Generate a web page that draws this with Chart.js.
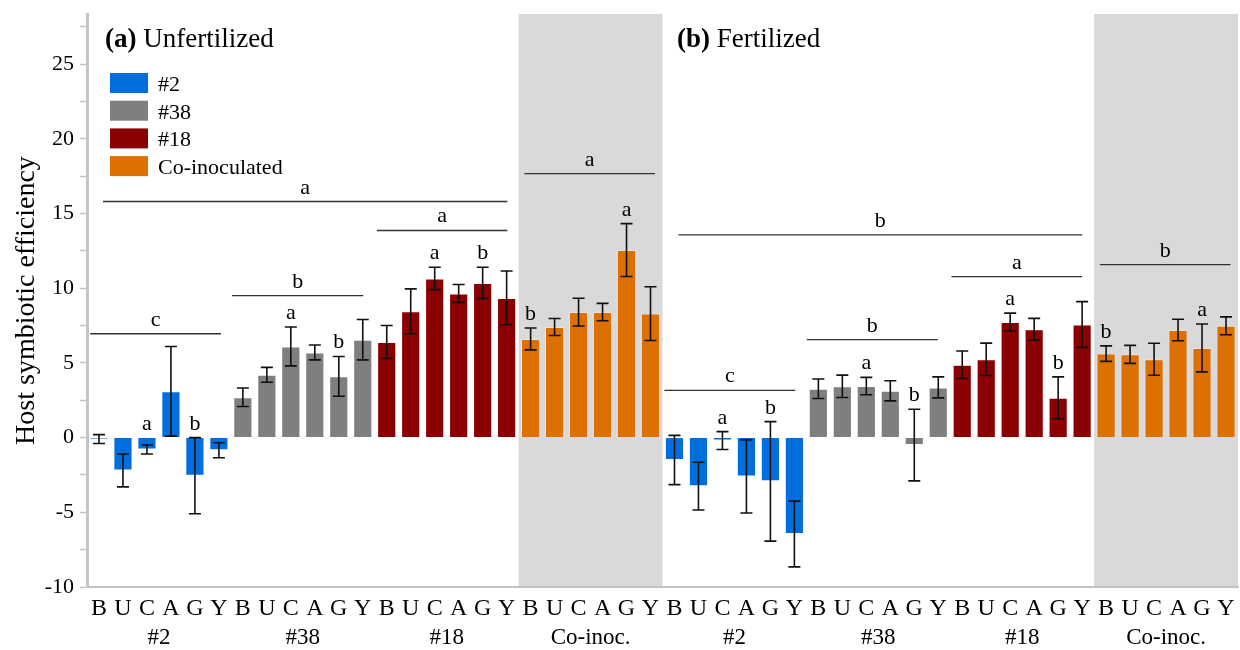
<!DOCTYPE html>
<html lang="en">
<head>
<meta charset="UTF-8">
<title>Host symbiotic efficiency</title>
<script src="https://cdn.jsdelivr.net/npm/chart.js@4/dist/chart.umd.min.js"></script>
<style>
  body { margin: 0; background: #fff; }
  #chart { display: block; }
</style>
</head>
<body>
<canvas id="chart" width="1240" height="650"></canvas>
<script>
// strains along x, repeated for each inoculum and each panel
const strains = ['B', 'U', 'C', 'A', 'G', 'Y'];
const groups = ['#2', '#38', '#18', 'Co-inoc.'];
const legendNames = ['#2', '#38', '#18', 'Co-inoculated'];
const colors = ['#006fdd', '#7f7f7f', '#8b0000', '#dd7000'];
const panelTitles = [['(a)', ' Unfertilized'], ['(b)', ' Fertilized']];

// (a) Unfertilized: means and error bar half-widths, per group of 6
const unfertMean = [
  -0.1, -2.2, -0.8, 3.1, -2.55, -0.85,
  2.7, 4.2, 6.1, 5.7, 4.1, 6.55,
  6.4, 8.45, 10.65, 9.65, 10.35, 9.35,
  6.6, 7.4, 8.4, 8.4, 12.55, 8.3
];
const unfertErr = [
  0.3, 1.1, 0.3, 3.0, 2.55, 0.5,
  0.62, 0.5, 1.3, 0.5, 1.33, 1.35,
  1.1, 1.5, 0.75, 0.6, 1.05, 1.8,
  0.73, 0.57, 0.93, 0.58, 1.77, 1.8
];
// (b) Fertilized
const fertMean = [
  -1.5, -3.25, -0.2, -2.6, -2.93, -6.45,
  3.27, 3.43, 3.45, 3.13, -0.5, 3.36,
  4.88, 5.24, 7.73, 7.25, 2.66, 7.57,
  5.62, 5.57, 5.24, 7.2, 6.0, 7.48
];
const fertErr = [
  1.65, 1.6, 0.6, 2.45, 4.0, 2.2,
  0.65, 0.75, 0.58, 0.67, 2.4, 0.7,
  0.92, 1.08, 0.6, 0.73, 1.4, 1.53,
  0.52, 0.6, 1.07, 0.72, 1.6, 0.6
];
// letters over single bars (index within panel -> letter)
const barLetters = { 2: 'a', 4: 'b', 8: 'a', 10: 'b', 14: 'a', 16: 'b', 18: 'b', 22: 'a' };

// comparison lines: [from, to] in category index units, height, letter
const compLines = [
  [-0.37, 5.09, 6.95, 'c'],
  [5.55, 11.02, 9.5, 'b'],
  [11.59, 17.03, 13.86, 'a'],
  [0.17, 17.03, 15.8, 'a'],
  [17.74, 23.19, 17.67, 'a'],
  [24.17, 41.0, 13.57, 'b'],
  [23.58, 29.04, 3.16, 'c'],
  [29.52, 34.98, 6.56, 'b'],
  [35.55, 41.0, 10.77, 'a'],
  [41.74, 47.19, 11.57, 'b']
];
const shadedRanges = [[18, 23], [42, 47]];

const labels = [];
[0, 1].forEach(() => groups.forEach(() => strains.forEach(s => labels.push(s))));
const means = unfertMean.concat(fertMean);
const errs = unfertErr.concat(fertErr);

const datasets = groups.map((g, gi) => ({
  label: legendNames[gi],
  data: means.map((v, i) => (Math.floor(i / 6) % 4 === gi ? v : null)),
  backgroundColor: colors[gi],
  borderColor: 'rgba(255,255,255,0.35)',
  borderWidth: 1,
  barPercentage: 0.8,
  categoryPercentage: 1.0
}));

const serif = '"Liberation Serif", "DejaVu Serif", serif';

const annot = {
  id: 'annot',
  beforeDraw(chart) {
    const { ctx, chartArea, scales: { x } } = chart;
    ctx.save();
    ctx.fillStyle = '#d9d9d9';
    shadedRanges.forEach(([a, b]) => {
      const x0 = x.getPixelForValue(a - 0.5), x1 = x.getPixelForValue(b + 0.5);
      ctx.fillRect(x0, chartArea.top, x1 - x0, chartArea.bottom - chartArea.top);
    });
    ctx.restore();
  },
  afterDatasetsDraw(chart) {
    const { ctx, scales: { x, y } } = chart;
    ctx.save();
    // error bars
    ctx.strokeStyle = '#111';
    ctx.lineWidth = 1.6;
    means.forEach((m, i) => {
      const px = x.getPixelForValue(i);
      const top = y.getPixelForValue(m + errs[i]), bot = y.getPixelForValue(m - errs[i]);
      ctx.beginPath();
      ctx.moveTo(px, top); ctx.lineTo(px, bot);
      ctx.moveTo(px - 6, top); ctx.lineTo(px + 6, top);
      ctx.moveTo(px - 6, bot); ctx.lineTo(px + 6, bot);
      ctx.stroke();
    });
    // letters over bars
    ctx.fillStyle = '#000';
    ctx.font = '22px ' + serif;
    ctx.textAlign = 'center';
    ctx.textBaseline = 'alphabetic';
    [0, 24].forEach(off => {
      Object.keys(barLetters).forEach(k => {
        const i = off + Number(k);
        const py = y.getPixelForValue(Math.max(0, means[i] + errs[i]));
        ctx.fillText(barLetters[k], x.getPixelForValue(i), py - 8);
      });
    });
    // comparison lines
    ctx.strokeStyle = '#333';
    ctx.lineWidth = 1.3;
    compLines.forEach(([a, b, v, t]) => {
      const x0 = x.getPixelForValue(a), x1 = x.getPixelForValue(b), py = y.getPixelForValue(v);
      ctx.beginPath();
      ctx.moveTo(x0, py); ctx.lineTo(x1, py);
      ctx.stroke();
      ctx.fillText(t, (x0 + x1) / 2, py - 8);
    });
    // panel titles
    ctx.textAlign = 'left';
    panelTitles.forEach(([tag, name], p) => {
      const px = p === 0 ? 105 : 677;
      ctx.font = 'bold 27px ' + serif;
      ctx.fillText(tag, px, 47);
      const w = ctx.measureText(tag).width;
      ctx.font = '27px ' + serif;
      ctx.fillText(name, px + w, 47);
    });
    // legend
    ctx.font = '22px ' + serif;
    datasets.forEach((d, i) => {
      const ly = 73 + i * 27.7;
      ctx.fillStyle = d.backgroundColor;
      ctx.fillRect(110, ly, 38, 20);
      ctx.fillStyle = '#000';
      ctx.fillText(d.label, 158, ly + 18);
    });
    // group names under the strain letters
    ctx.textAlign = 'center';
    ctx.textBaseline = 'middle';
    ctx.font = '23px ' + serif;
    for (let p = 0; p < 2; p++) {
      groups.forEach((g, gi) => {
        const c = p * 24 + gi * 6 + 2.5;
        ctx.fillText(g, x.getPixelForValue(c), 638);
      });
    }
    ctx.restore();
  }
};

new Chart('chart', {
  type: 'bar',
  data: { labels: labels, datasets: datasets },
  options: {
    responsive: false,
    animation: false,
    layout: { padding: { top: 14, right: 2, left: 0, bottom: 0 } },
    datasets: { bar: { grouped: false } },
    plugins: { legend: { display: false }, tooltip: { enabled: false } },
    scales: {
      x: {
        grid: { display: false },
        border: { display: true, color: '#c4c4c4', width: 2 },
        ticks: {
          autoSkip: false, maxRotation: 0, padding: -1,
          color: '#000', font: { family: serif, size: 24 }
        },
        afterFit: s => { s.height = 63; }
      },
      y: {
        min: -10,
        max: 28.35,
        grid: { display: true, drawOnChartArea: false, tickLength: 7, tickColor: '#c4c4c4', tickWidth: 1.5 },
        border: { display: true, color: '#c4c4c4', width: 3 },
        ticks: {
          stepSize: 2.5, includeBounds: false, padding: 6,
          color: '#000', font: { family: serif, size: 22 },
          callback: v => (v % 5 === 0 ? v : '')
        },
        title: {
          display: true, text: 'Host symbiotic efficiency',
          color: '#000', font: { family: serif, size: 28 }, padding: { top: 10 }
        },
        afterFit: s => { s.width = 87; s.paddingTop = 0; s.paddingBottom = 0; }
      }
    }
  },
  plugins: [annot]
});
</script>
</body>
</html>
